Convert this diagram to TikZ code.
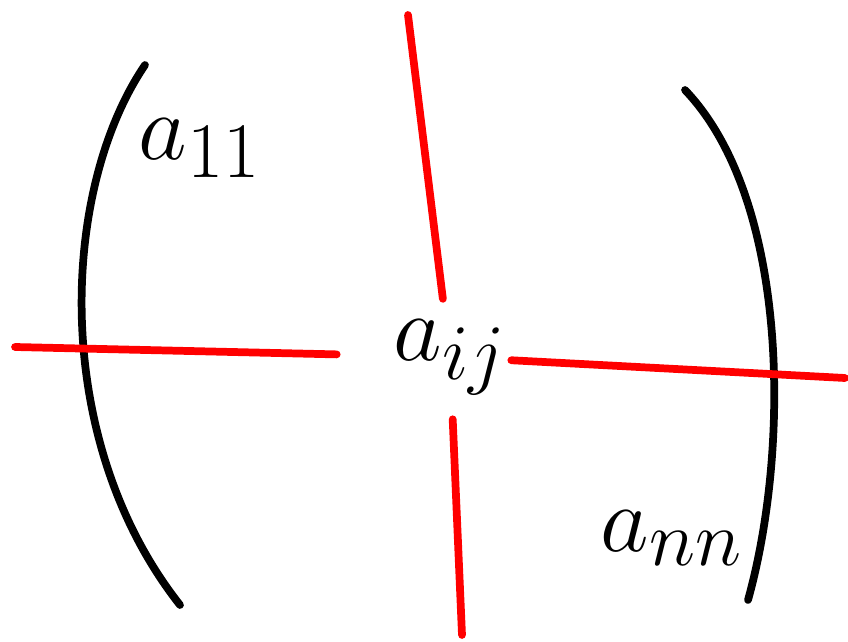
\documentclass[tikz,border=0pt]{standalone}
\usepackage{tikz}
\usetikzlibrary{calc,positioning}

\tikzset{
  bracket/.style={line width=5.5pt,line cap=round,black},
  cutline/.style={line width=5.5pt,line cap=round,red},
  entry/.style={scale=2.7,inner sep=0pt}
}

\begin{document}
\begin{tikzpicture}[x=0.025cm,y=-0.025cm]
  \useasboundingbox (0,0) rectangle (848,642);

  % the two brackets
  \draw[bracket] (145,65) .. controls (60,190) and (50,440) .. (180,605);
  \draw[bracket] (685,90) .. controls (790,200) and (790,450) .. (748,600);

  % entries
  \node[entry] (a11) at (200,148) {\Huge $a_{11}$};
  \node[entry] (aij) at (450,357) {\Huge $a_{ij}$};
  \node[entry] (ann) at (672,538) {\Huge $a_{nn}$};

  % row and column through a_ij
  \coordinate (rowL) at (15,347);
  \coordinate (rowR) at (845,378);
  \coordinate (colT) at (408,15);
  \coordinate (colB) at (462,635);
  \draw[cutline,shorten <=1.4cm] (aij) -- (rowL);
  \draw[cutline,shorten <=0.1cm] (aij) -- (rowR);
  \draw[cutline,shorten <=0.5cm] (aij) -- (colT);
  \draw[cutline,shorten <=0.6cm] (aij) -- (colB);
\end{tikzpicture}
\end{document}
